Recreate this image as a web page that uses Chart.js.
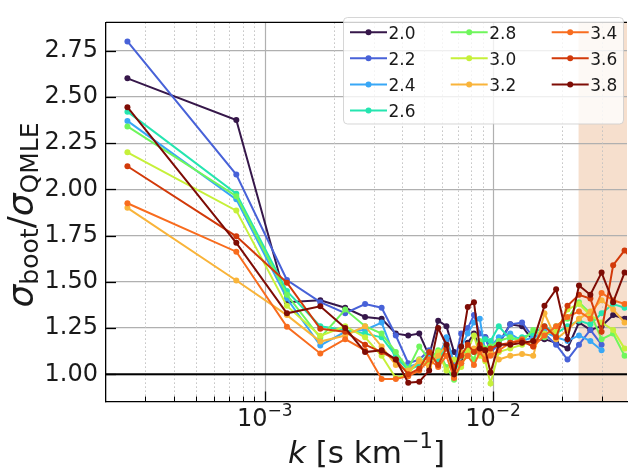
<!DOCTYPE html>
<html><head><meta charset="utf-8">
<script src="https://cdn.jsdelivr.net/npm/chart.js@4.4.1/dist/chart.umd.min.js"></script>
<style>
html,body{margin:0;padding:0;background:#fff;}
#wrap{position:relative;width:631px;height:473px;overflow:hidden;}
</style></head>
<body><div id="wrap"><canvas id="c" width="631" height="473"></canvas></div>
<script>
// ---- data ----
const kValues = [0.00025, 0.00075, 0.00125, 0.00175, 0.00225, 0.00275, 0.00325, 0.00375, 0.00425, 0.00475,
  0.00525, 0.00575, 0.00625, 0.00675, 0.00725, 0.00775, 0.00825, 0.00875, 0.00925, 0.00975,
  0.0106, 0.0119, 0.0134, 0.0150, 0.0168, 0.0189, 0.0212, 0.0238, 0.0267, 0.0299, 0.0336, 0.0377, 0.0423];

const seriesLabels = ['2.0', '2.2', '2.4', '2.6', '2.8', '3.0', '3.2', '3.4', '3.6', '3.8'];
const seriesColors = ['#36174a', '#4862d8', '#38a7f6', '#25e5b0', '#6ff65c', '#c6f03a', '#f9b43a', '#f86c1e', '#d23a0a', '#7e0c05'];

const s20 = [2.60, 2.375, 1.39, 1.40, 1.36, 1.31, 1.30, 1.22, 1.21, 1.22, 1.10, 1.29, 1.26, 1.12, 1.06, 1.17, 1.22, 1.14, 1.20, 1.13, 1.17, 1.27, 1.26, 1.18, 1.19, 1.17, 1.14, 1.28, 1.24, 1.26, 1.32, 1.30, 1.35];
const s22 = [2.80, 2.08, 1.51, 1.39, 1.33, 1.38, 1.36, 1.21, 1.06, 1.08, 1.13, 1.05, 1.18, 1.05, 1.22, 1.25, 1.32, 1.22, 1.20, 1.12, 1.16, 1.27, 1.28, 1.20, 1.22, 1.16, 1.08, 1.16, 1.24, 1.16, null, null, null];
const s24 = [2.37, 1.946, 1.41, 1.156, 1.23, 1.24, 1.28, 1.08, 1.04, 1.06, 1.10, 1.08, 1.20, 1.06, 1.15, 1.22, 1.28, 1.30, 1.12, 1.15, 1.20, 1.22, 1.18, 1.20, 1.23, 1.20, 1.18, 1.21, 1.18, 1.13, null, null, null];
const s26 = [2.42, 1.976, 1.45, 1.26, 1.24, 1.22, 1.20, 1.10, 1.02, 1.05, 1.12, 1.08, 1.15, 1.00, 1.10, 1.14, 1.12, 1.16, 1.19, 1.18, 1.26, 1.19, 1.20, 1.22, 1.26, 1.22, 1.26, 1.29, 1.27, 1.33, 1.38, 1.36, 1.38];
const s28 = [2.34, 1.963, 1.43, 1.197, 1.35, 1.26, 1.22, 1.12, 1.03, 1.15, 1.08, 1.13, 1.04, 0.97, 1.05, 1.12, 1.08, 1.18, 1.14, 1.15, 1.18, 1.20, 1.18, 1.24, 1.20, 1.26, 1.30, 1.39, 1.33, 1.19, 1.22, 1.10, 1.06];
const s30 = [2.20, 1.885, 1.37, 1.208, 1.26, 1.20, 1.10, 0.98, 1.00, 1.08, 1.06, 1.12, 1.02, 1.08, 1.04, 1.13, 1.21, 1.10, 1.07, 0.95, 1.12, 1.14, 1.16, 1.18, 1.22, 1.23, 1.35, 1.38, 1.32, 1.28, 1.24, 1.14, 1.10];
const s32 = [1.90, 1.507, 1.32, 1.177, 1.21, 1.26, 1.15, 1.05, 1.02, 1.07, 1.04, 1.10, 1.16, 1.02, 1.12, 1.10, 1.14, 1.16, 1.10, 1.12, 1.08, 1.10, 1.11, 1.10, 1.33, 1.19, 1.24, 1.30, 1.34, 1.40, 1.35, 1.28, 1.30];
const s34 = [1.925, 1.663, 1.257, 1.113, 1.19, 1.13, 0.975, 0.975, 0.99, 1.02, 1.08, 1.04, 1.10, 0.98, 1.06, 1.10, 1.05, 1.12, 1.08, 1.10, 1.13, 1.17, 1.19, 1.15, 1.21, 1.26, 1.31, 1.34, 1.30, 1.44, 1.40, 1.38, 1.42];
const s36 = [2.125, 1.746, 1.495, 1.246, 1.23, 1.16, 1.12, 1.08, 1.00, 1.03, 1.12, 1.05, 1.14, 1.04, 1.10, 1.16, 1.12, 1.16, 1.13, 1.14, 1.16, 1.17, 1.18, 1.15, 1.26, 1.20, 1.37, 1.43, 1.41, 1.23, 1.59, 1.67, 1.60];
const s38 = [2.444, 1.711, 1.33, 1.368, 1.25, 1.12, 1.13, 1.08, 0.955, 0.96, 1.02, 1.25, 1.16, 1.00, 1.15, 1.364, 1.39, 1.14, 1.13, 1.01, 1.16, 1.16, 1.17, 1.18, 1.37, 1.46, 1.19, 1.48, 1.43, 1.55, 1.39, 1.55, 1.50];

const seriesValues = [s20, s22, s24, s26, s28, s30, s32, s34, s36, s38];

const xMajorTicks = [0.001, 0.01];
const xTickBase = ['10', '10'];
const xTickExp = ['\u22123', '\u22122'];
const referenceLevel = 1.0;
const shadeStartK = 0.0237;
const xMin = 2.014e-4, xMax = 0.03864;
const yMin = 0.853, yMax = 2.9026;

// ---- chart ----
const FONT = '"DejaVu Sans"';
const TXT = '#1a1a1a';

const datasets = seriesValues.map((vals, i) => ({
  label: seriesLabels[i],
  data: kValues.map((k, j) => ({x: k, y: vals[j]})),
  borderColor: seriesColors[i],
  backgroundColor: seriesColors[i],
  pointBackgroundColor: seriesColors[i],
  pointBorderColor: seriesColors[i],
  borderWidth: 2,
  pointRadius: 3,
  pointBorderWidth: 0,
  tension: 0,
  fill: false,
  spanGaps: false,
  order: seriesValues.length - 1 - i
}));

function drawParts(ctx, parts, cx, baseline) {
  let total = 0;
  parts.forEach(p => { ctx.font = p.f; p.w = ctx.measureText(p.t).width; total += p.w; });
  let xx = cx - total / 2;
  parts.forEach(p => { ctx.font = p.f; ctx.fillText(p.t, xx, baseline + (p.dy || 0)); xx += p.w; });
}

function roundRect(ctx, x, y, w, h, r) {
  ctx.beginPath();
  ctx.moveTo(x + r, y);
  ctx.lineTo(x + w - r, y); ctx.arcTo(x + w, y, x + w, y + r, r);
  ctx.lineTo(x + w, y + h - r); ctx.arcTo(x + w, y + h, x + w - r, y + h, r);
  ctx.lineTo(x + r, y + h); ctx.arcTo(x, y + h, x, y + h - r, r);
  ctx.lineTo(x, y + r); ctx.arcTo(x, y, x + r, y, r);
  ctx.closePath();
}

const decor = {
  id: 'decor',
  beforeDraw(chart) {
    const {ctx, chartArea: a, scales: {x}} = chart;
    const x0 = Math.max(a.left, x.getPixelForValue(shadeStartK));
    ctx.save();
    ctx.fillStyle = '#f6dfcd';
    ctx.fillRect(x0, a.top, a.right - x0, a.bottom - a.top);
    ctx.restore();
  },
  beforeDatasetsDraw(chart) {
    const {ctx, chartArea: a, scales: {x, y}} = chart;
    ctx.save();
    ctx.beginPath(); ctx.rect(a.left, a.top, a.right - a.left, a.bottom - a.top); ctx.clip();
    for (let e = -5; e <= -1; e++) {
      for (let m = 1; m <= 9; m++) {
        const v = m * Math.pow(10, e);
        if (v <= x.min || v >= x.max) continue;
        const px = Math.round(x.getPixelForValue(v)) + 0.5;
        ctx.beginPath();
        if (m === 1) { ctx.setLineDash([]); ctx.strokeStyle = '#b0b0b0'; ctx.lineWidth = 1.2; }
        else { ctx.setLineDash([1.5, 2.5]); ctx.strokeStyle = '#c2c2c2'; ctx.lineWidth = 1; }
        ctx.moveTo(px, a.top); ctx.lineTo(px, a.bottom); ctx.stroke();
      }
    }
    ctx.setLineDash([]);
    const py = y.getPixelForValue(referenceLevel);
    ctx.strokeStyle = '#000'; ctx.lineWidth = 2;
    ctx.beginPath(); ctx.moveTo(a.left, py); ctx.lineTo(a.right, py); ctx.stroke();
    ctx.restore();
  },
  afterDraw(chart) {
    const {ctx, chartArea: a, scales: {x, y}} = chart;
    ctx.save();
    ctx.strokeStyle = '#000'; ctx.lineWidth = 1.3;
    ctx.beginPath(); ctx.moveTo(a.left, a.top); ctx.lineTo(a.right, a.top); ctx.stroke();
    y.ticks.forEach(t => {
      const py = Math.round(y.getPixelForValue(t.value)) + 0.5;
      ctx.beginPath(); ctx.moveTo(a.left, py); ctx.lineTo(a.left + 10, py); ctx.stroke();
    });
    for (let e = -5; e <= -1; e++) {
      for (let m = 1; m <= 9; m++) {
        const v = m * Math.pow(10, e);
        if (v <= x.min || v >= x.max) continue;
        const px = Math.round(x.getPixelForValue(v)) + 0.5;
        const len = m === 1 ? 10 : 5;
        ctx.lineWidth = m === 1 ? 1.3 : 1;
        ctx.beginPath(); ctx.moveTo(px, a.bottom); ctx.lineTo(px, a.bottom - len); ctx.stroke();
      }
    }
    ctx.fillStyle = TXT; ctx.textAlign = 'left'; ctx.textBaseline = 'alphabetic';
    xMajorTicks.forEach((v, i) => {
      const px = x.getPixelForValue(v);
      drawParts(ctx, [
        {t: xTickBase[i], f: '24px ' + FONT, dy: 0},
        {t: xTickExp[i], f: '17px ' + FONT, dy: -10}
      ], px, a.bottom + 24);
    });
    drawParts(ctx, [
      {t: 'k', f: 'italic 31px ' + FONT, dy: 0},
      {t: ' [s km', f: '31px ' + FONT, dy: 0},
      {t: '\u22121', f: '21px ' + FONT, dy: -15},
      {t: ']', f: '31px ' + FONT, dy: 0}
    ], (a.left + a.right) / 2, 463);

    // legend (3 columns filled top-to-bottom: 4, 3, 3 entries)
    ctx.save();
    roundRect(ctx, 343.5, 17.5, 280, 106.5, 4);
    ctx.fillStyle = 'rgba(255,255,255,0.8)'; ctx.fill();
    ctx.strokeStyle = 'rgba(204,204,204,0.8)'; ctx.lineWidth = 1; ctx.stroke();
    const colX = [350, 450.7, 551.7];
    const rowY = [32.3, 58.3, 84.4, 110.5];
    const perCol = Math.ceil(seriesLabels.length / 3);
    const n2 = Math.ceil((seriesLabels.length - perCol) / 2);
    ctx.font = '17px ' + FONT;
    seriesLabels.forEach((lab, i) => {
      let col, row;
      if (i < perCol) { col = 0; row = i; }
      else { const r = i - perCol; col = 1 + Math.floor(r / n2); row = r % n2; }
      const lx = colX[col], ly = rowY[row];
      ctx.strokeStyle = seriesColors[i]; ctx.lineWidth = 2;
      ctx.beginPath(); ctx.moveTo(lx, ly); ctx.lineTo(lx + 37, ly); ctx.stroke();
      ctx.fillStyle = seriesColors[i];
      ctx.beginPath(); ctx.arc(lx + 18.5, ly, 3, 0, Math.PI * 2); ctx.fill();
      ctx.fillStyle = TXT;
      ctx.fillText(lab, lx + 38.5, ly + 6.2);
    });
    ctx.restore();

    // y axis title
    ctx.fillStyle = TXT;
    ctx.translate(33, (a.top + a.bottom) / 2 + 3);
    ctx.rotate(-Math.PI / 2);
    drawParts(ctx, [
      {t: '\u03C3', f: 'italic 36px ' + FONT, dy: 0},
      {t: 'boot', f: '25px ' + FONT, dy: 5},
      {t: '/', f: '36px ' + FONT, dy: 0},
      {t: '\u03C3', f: 'italic 36px ' + FONT, dy: 0},
      {t: 'QMLE', f: '25px ' + FONT, dy: 5}
    ], 0, 0);
    ctx.restore();
  }
};

new Chart(document.getElementById('c'), {
  type: 'line',
  data: {datasets},
  options: {
    responsive: false,
    devicePixelRatio: 1,
    animation: false,
    layout: {padding: {top: 8, right: 0, left: 0, bottom: 0}},
    plugins: {legend: {display: false}, tooltip: {enabled: false}},
    scales: {
      x: {
        type: 'logarithmic',
        min: xMin, max: xMax,
        ticks: {display: false},
        grid: {display: false},
        border: {display: true, color: '#000', width: 1.3},
        afterFit: s => { s.height = 71.5; }
      },
      y: {
        type: 'linear',
        min: yMin, max: yMax,
        ticks: {
          stepSize: 0.25, includeBounds: false, padding: 8,
          color: TXT, font: {family: 'DejaVu Sans', size: 24},
          callback: v => Number(v).toFixed(2)
        },
        grid: {color: '#b0b0b0', lineWidth: 1.2, drawTicks: false},
        border: {display: true, color: '#000', width: 1.3},
        afterFit: s => { s.width = 106; }
      }
    }
  },
  plugins: [decor]
});
</script>
</body></html>
